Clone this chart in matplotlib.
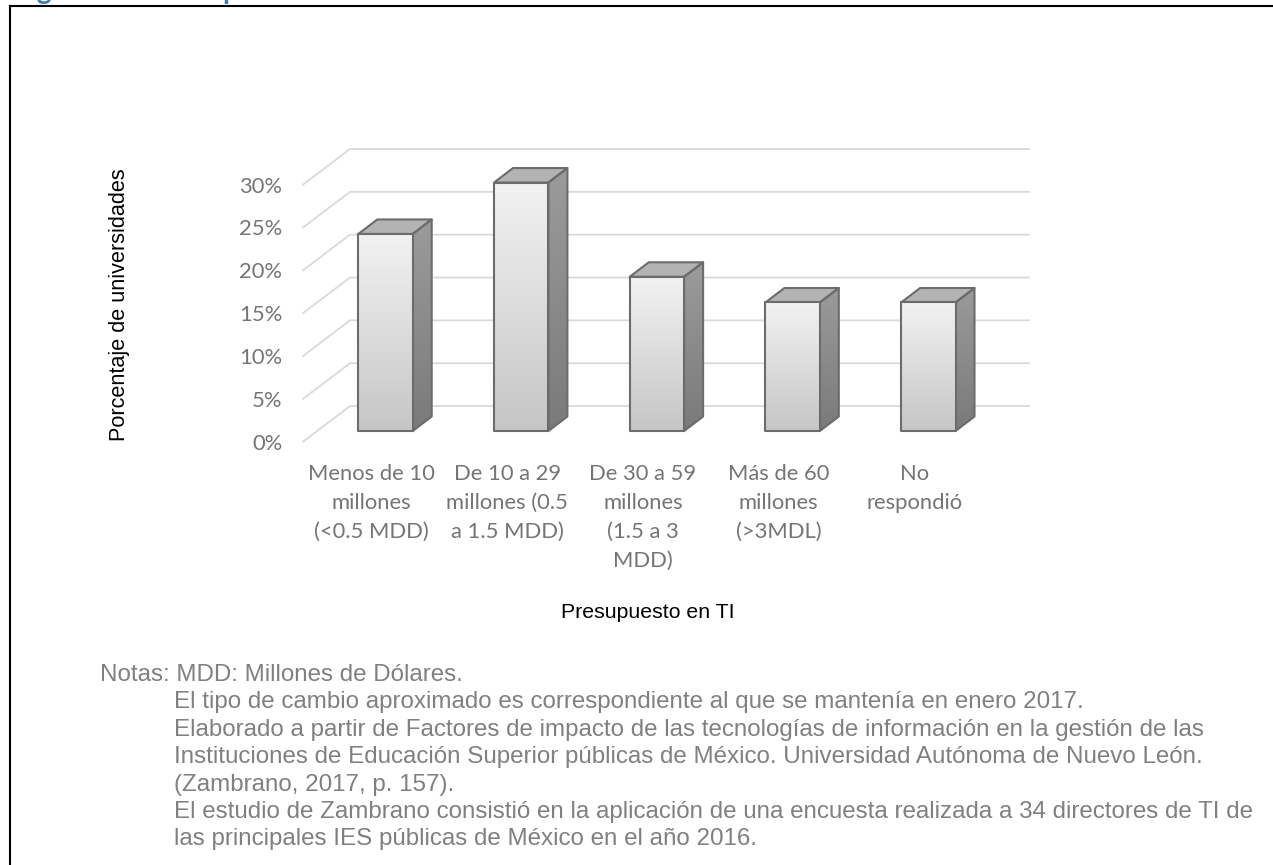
import numpy as np
import matplotlib
matplotlib.use("Agg")
import matplotlib.pyplot as plt
from matplotlib.lines import Line2D
from matplotlib.patches import Polygon
from matplotlib.transforms import Bbox

W, H = 1273, 865

categories = [
    "Menos de 10\nmillones\n(<0.5 MDD)",
    "De 10 a 29\nmillones (0.5\na 1.5 MDD)",
    "De 30 a 59\nmillones\n(1.5 a 3\nMDD)",
    "Más de 60\nmillones\n(>3MDL)",
    "No\nrespondió",
]
values = [23, 29, 18, 15, 15]
grid_values = [0, 5, 10, 15, 20, 25, 30]
grid_labels = ["0%", "5%", "10%", "15%", "20%", "25%", "30%"]

notes = [
    "El tipo de cambio aproximado es correspondiente al que se mantenía en enero 2017.",
    "Elaborado a partir de Factores de impacto de las tecnologías de información en la gestión de las",
    "Instituciones de Educación Superior públicas de México. Universidad Autónoma de Nuevo León.",
    "(Zambrano, 2017, p. 157).",
    "El estudio de Zambrano consistió en la aplicación de una encuesta realizada a 34 directores de TI de",
    "las principales IES públicas de México en el año 2016.",
]

# pixel scale of the plot area
PX_X = 135.7   # per category
PX_Y = 8.58    # per percentage point
BAR_W = 54.4 / PX_X
# depth of a bar and of the floor, in data units
BAR_DX, BAR_DY = 19 / PX_X, 14.5 / PX_Y
FLOOR_FRONT = -10.7 / PX_Y
FLOOR_BACK = 25 / PX_Y
FLOOR_X0 = (303 - 385.5) / PX_X
WALL_X0 = (350 - 385.5) / PX_X
WALL_X1 = (1029 - 385.5) / PX_X


def px(x, y):
    return x / W, 1 - y / H


def gradient(ax, top, bottom, verts, zorder):
    verts = np.array(verts)
    c = np.linspace(matplotlib.colors.to_rgb(top), matplotlib.colors.to_rgb(bottom), 128)[:, None, :]
    extent = [verts[:, 0].min(), verts[:, 0].max(), verts[:, 1].min(), verts[:, 1].max()]
    im = ax.imshow(c, extent=extent, origin="upper", aspect="auto", zorder=zorder, interpolation="bilinear")
    clip = Polygon(verts, closed=True, transform=ax.transData)
    im.set_clip_path(clip)
    ax.add_patch(Polygon(verts, closed=True, fill=False, edgecolor="#6c6c6c", linewidth=1.5,
                         joinstyle="round", zorder=zorder + 0.1))


fig = plt.figure(figsize=(W / 100, H / 100), dpi=100)
left, bottom = px(303, 441.7)
ax = fig.add_axes([left, bottom, (1029 - 303) / W, (441.7 - 149) / H])

# back wall and floor lines
for v in grid_values:
    ax.plot([FLOOR_X0, WALL_X0, WALL_X1], [v + FLOOR_FRONT, v + FLOOR_BACK, v + FLOOR_BACK],
            color="#d9d9d9", linewidth=1.3, zorder=1, solid_joinstyle="miter", clip_on=False)

# 3D-looking bars
for i, v in enumerate(values):
    x0, x1 = i - BAR_W / 2, i + BAR_W / 2
    gradient(ax, "#9b9b9b", "#7a7a7a",
             [(x1, 0), (x1 + BAR_DX, BAR_DY), (x1 + BAR_DX, v + BAR_DY), (x1, v)], 3)
    ax.add_patch(Polygon([(x0, v), (x1, v), (x1 + BAR_DX, v + BAR_DY), (x0 + BAR_DX, v + BAR_DY)],
                         closed=True, facecolor="#b3b3b3", edgecolor="#6c6c6c", linewidth=1.5,
                         joinstyle="round", zorder=3))
    gradient(ax, "#f2f2f2", "#c6c6c6", [(x0, 0), (x1, 0), (x1, v), (x0, v)], 4)

ax.set_xlim(FLOOR_X0, WALL_X1)
ax.set_ylim(FLOOR_FRONT, 30 + FLOOR_BACK)
for s in ax.spines.values():
    s.set_visible(False)
ax.patch.set_visible(False)

ax.set_xticks(np.arange(len(categories)) - 14 / PX_X)
ax.set_xticklabels(categories, fontfamily="Lato", fontsize=15.8, color="#757575", linespacing=1.56)
ax.set_yticks(np.array(grid_values) + FLOOR_FRONT)
ax.set_yticklabels(grid_labels, fontfamily="Lato", fontsize=15.8, color="#757575")
ax.tick_params(axis="x", length=0, pad=16)
ax.tick_params(axis="y", length=0, pad=15)

sans = "Liberation Sans"
fig.text(*px(648, 612), "Presupuesto en TI", family=sans, fontsize=15.3, color="black", ha="center", va="center")
fig.text(*px(120, 305), "Porcentaje de universidades", family=sans, fontsize=15.6, color="black",
         rotation=90, ha="center", va="center")

fig.text(*px(100, 681), "Notas: MDD: Millones de Dólares.", family=sans, fontsize=17.35, color="#808080", va="baseline")
for k, line in enumerate(notes):
    fig.text(*px(174, 708.4 + k * 27.4), line, family=sans, fontsize=17.35, color="#808080", va="baseline")

# page frame
fig.add_artist(Line2D([10, 10], [0, H - 5.5], transform=None, color="black", linewidth=1.5))
fig.add_artist(Line2D([10, W], [H - 5.5, H - 5.5], transform=None, color="black", linewidth=1.5))

# heading cut off by the frame: only its descenders show
clip_box = Bbox([[0, H - 4.5], [W, H]])
for x, letter in [(36, "g"), (222, "p")]:
    t = fig.text(*px(x, -1), letter, family="Lato", fontweight="bold", fontsize=20, color="#4277bd", va="baseline")
    t.set_clip_box(clip_box)
    t.set_clip_on(True)

fig.savefig("out.png", dpi=100)
